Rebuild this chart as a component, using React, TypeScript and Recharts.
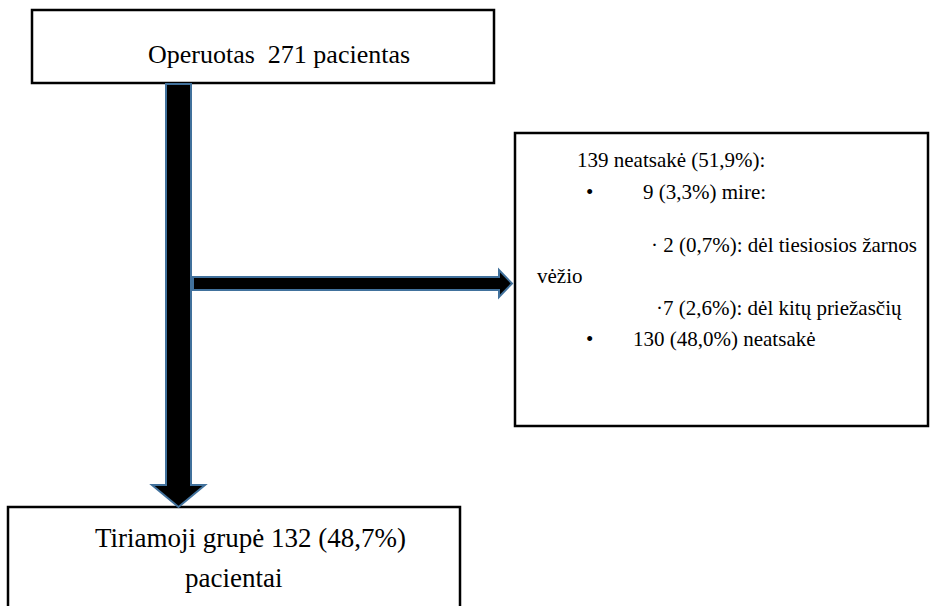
import { ComposedChart, ReferenceArea, XAxis, YAxis } from "recharts"

// flow values
const stageLabels = ["Operuotas", "neatsakė", "Tiriamoji grupė"]
const stageCounts = [271, 139, 132]
const stagePercents = ["", "51,9", "48,7"]
const subCounts = [9, 2, 7, 130]
const subPercents = ["3,3", "0,7", "2,6", "48,0"]
const subLabels = ["mire:", "dėl tiesiosios žarnos", "dėl kitų priežasčių", "neatsakė"]
const wrapTail = "vėžio"

const W = 930
const H = 606
const FONT = "Liberation Serif"
const ARROW_FILL = "#000000"
const ARROW_STROKE = "#41719C"

type Box = { x: number; y: number; width: number; height: number }

const txt = (size: number) => ({ fontFamily: FONT, fontSize: size, fill: "#000", whiteSpace: "pre" as const })

const boxRect = (p: Box) => (
  <rect x={p.x} y={p.y} width={p.width} height={p.height} fill="#fff" stroke="#000" strokeWidth={2.5} />
)

const TopBox = (p: Box) => (
  <g>
    {boxRect(p)}
    <text x={p.x + 116} y={p.y + 53} style={txt(26)}>
      {`${stageLabels[0]}  ${stageCounts[0]} pacientas`}
    </text>
  </g>
)

const SideBox = (p: Box) => {
  const s = txt(21)
  return (
    <g>
      {boxRect(p)}
      <text x={p.x + 62} y={p.y + 34} style={s}>{`${stageCounts[1]} ${stageLabels[1]} (${stagePercents[1]}%):`}</text>
      <text x={p.x + 71} y={p.y + 66} style={s}>•</text>
      <text x={p.x + 128} y={p.y + 66} style={s}>{`${subCounts[0]} (${subPercents[0]}%) ${subLabels[0]}`}</text>
      <text x={p.x + 136} y={p.y + 119} style={s}>{`· ${subCounts[1]} (${subPercents[1]}%): ${subLabels[1]}`}</text>
      <text x={p.x + 22} y={p.y + 150} style={s}>{wrapTail}</text>
      <text x={p.x + 141} y={p.y + 182} style={s}>{`·${subCounts[2]} (${subPercents[2]}%): ${subLabels[2]}`}</text>
      <text x={p.x + 71} y={p.y + 213} style={s}>•</text>
      <text x={p.x + 118} y={p.y + 213} style={s}>{`${subCounts[3]} (${subPercents[3]}%) ${subLabels[3]}`}</text>
    </g>
  )
}

const BottomBox = (p: Box) => (
  <g>
    {boxRect(p)}
    <text x={p.x + 87} y={p.y + 40} style={txt(27)}>
      {`${stageLabels[2]} ${stageCounts[2]} (${stagePercents[2]}%)`}
    </text>
    <text x={p.x + 177} y={p.y + 80} style={txt(27)}>
      pacientai
    </text>
  </g>
)

// arrow pointing down, filling the bounding box
const DownArrow = (p: Box) => {
  const cx = p.x + p.width / 2
  const shaft = 25
  const head = 22
  const pts = [
    [cx - shaft / 2, p.y],
    [cx + shaft / 2, p.y],
    [cx + shaft / 2, p.y + p.height - head],
    [p.x + p.width, p.y + p.height - head],
    [cx, p.y + p.height],
    [p.x, p.y + p.height - head],
    [cx - shaft / 2, p.y + p.height - head],
  ]
  return <polygon points={pts.map((q) => q.join(",")).join(" ")} fill={ARROW_FILL} stroke={ARROW_STROKE} strokeWidth={2} />
}

// arrow pointing right
const RightArrow = (p: Box) => {
  const cy = p.y + p.height / 2
  const shaft = 13
  const head = 13
  const pts = [
    [p.x, cy - shaft / 2],
    [p.x + p.width - head, cy - shaft / 2],
    [p.x + p.width - head, p.y],
    [p.x + p.width, cy],
    [p.x + p.width - head, p.y + p.height],
    [p.x + p.width - head, cy + shaft / 2],
    [p.x, cy + shaft / 2],
  ]
  return <polygon points={pts.map((q) => q.join(",")).join(" ")} fill={ARROW_FILL} stroke={ARROW_STROKE} strokeWidth={2} />
}

export default function App() {
  return (
    <div style={{ position: "absolute", left: 0, top: 0, background: "#fff" }}>
      <ComposedChart width={W} height={H} margin={{ top: 0, right: 0, bottom: 0, left: 0 }}>
        <XAxis type="number" dataKey="x" domain={[0, W]} hide allowDataOverflow />
        <YAxis type="number" dataKey="y" domain={[0, H]} reversed hide allowDataOverflow />
        <ReferenceArea x1={32} x2={494} y1={10} y2={83} ifOverflow="visible" shape={TopBox} />
        <ReferenceArea x1={515} x2={928} y1={133} y2={426} ifOverflow="visible" shape={SideBox} />
        <ReferenceArea x1={8} x2={460} y1={507} y2={620} ifOverflow="visible" shape={BottomBox} />
        <ReferenceArea x1={152} x2={205} y1={84} y2={507} ifOverflow="visible" shape={DownArrow} />
        <ReferenceArea x1={193} x2={512} y1={270} y2={297} ifOverflow="visible" shape={RightArrow} />
      </ComposedChart>
    </div>
  )
}
